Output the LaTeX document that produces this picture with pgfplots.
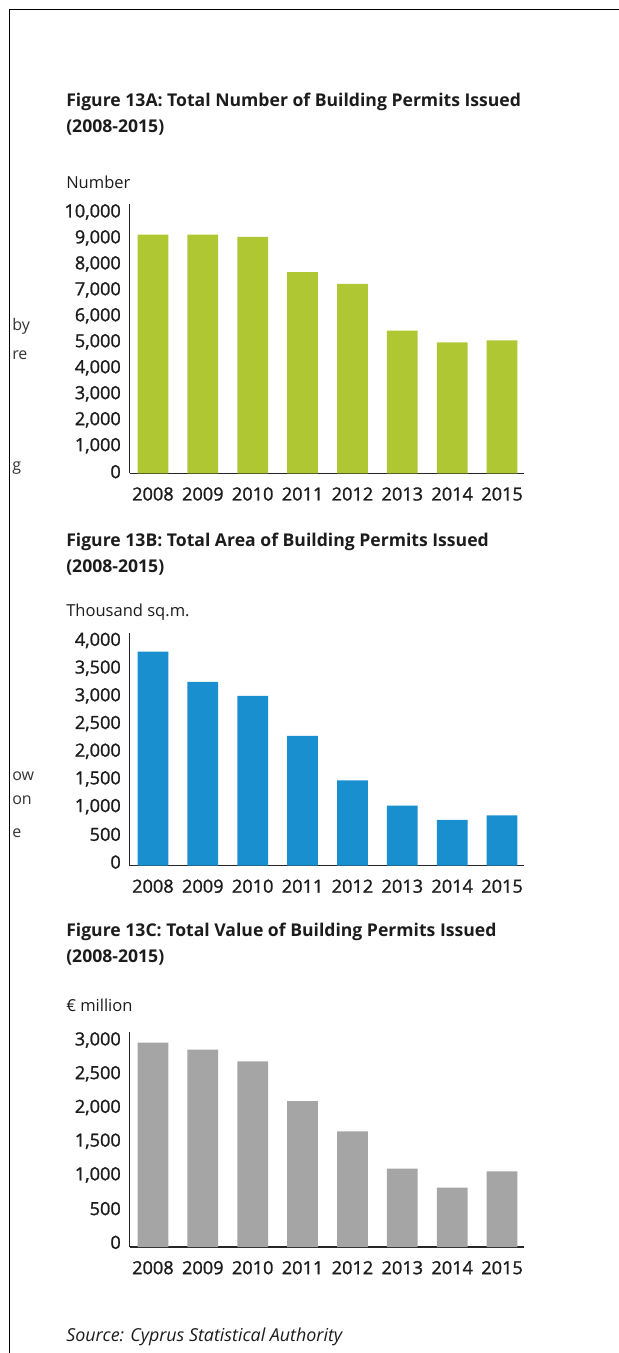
\documentclass[border=0pt]{standalone}
\usepackage{fontspec}
\setmainfont{Open Sans}
\newfontfamily\ticksf{Open Sans}[FakeBold=1.3]
\usepackage{pgfplots}
\pgfplotsset{compat=1.18}

\definecolor{barA}{RGB}{176,199,52}
\definecolor{barB}{RGB}{26,143,208}
\definecolor{barC}{RGB}{165,165,165}
\definecolor{txt}{RGB}{28,28,28}

% common look of the three panels
\pgfplotsset{permits/.style={
    scale only axis,
    width=295.9pt,
    xmin=-0.47, xmax=7.44, ymin=0,
    axis x line*=bottom, axis y line*=left,
    axis line style={-, line width=1.2pt, draw=black!85},
    major tick length=0pt,
    xtick={0,...,7},
    xticklabels={2008,2009,2010,2011,2012,2013,2014,2015},
    ybar, bar width=0.616,
    tick label style={font=\ticksf\fontsize{13.6}{15}\selectfont, text=txt},
    xticklabel style={yshift=-7pt},
    /pgf/number format/assume math mode=true,
    /pgf/number format/1000 sep={,},
    scaled y ticks=false,
    anchor=south west,
}}

\begin{document}
\begin{tikzpicture}
% page furniture, in reference pixels (1px = 0.75pt, y downwards)
\begin{scope}[x=0.75pt, y=-0.75pt]
\path[use as bounding box] (0,0) rectangle (618,1353);
\draw[line width=1.1pt] (9.5,1360) -- (9.5,9.7) -- (625,9.7);

% cut-off words of the neighbouring column
\begin{scope}[font=\fontsize{12}{14}\selectfont, text=black!80]
\node[anchor=base west, inner sep=0] at (12,330) {by};
\node[anchor=base west, inner sep=0] at (12,359) {re};
\node[anchor=base west, inner sep=0] at (12,470) {g};
\node[anchor=base west, inner sep=0] at (12,780) {ow};
\node[anchor=base west, inner sep=0] at (12,804) {on};
\node[anchor=base west, inner sep=0] at (12,837) {e};
\end{scope}

\begin{scope}[font=\bfseries\fontsize{13.2}{15}\selectfont, text=txt]
\node[anchor=base west, inner sep=0] at (66,106.5) {Figure 13A: Total Number of Building Permits Issued};
\node[anchor=base west, inner sep=0] at (66,132) {(2008-2015)};
\node[anchor=base west, inner sep=0] at (66,546) {Figure 13B: Total Area of Building Permits Issued};
\node[anchor=base west, inner sep=0] at (66,572) {(2008-2015)};
\node[anchor=base west, inner sep=0] at (66,936) {Figure 13C: Total Value of Building Permits Issued};
\node[anchor=base west, inner sep=0] at (66,962) {(2008-2015)};
\end{scope}

\begin{scope}[font=\fontsize{12.4}{14}\selectfont, text=txt]
\node[anchor=base west, inner sep=0] at (66,188.5) {Number};
\node[anchor=base west, inner sep=0] at (66,616) {Thousand sq.m.};
\node[anchor=base west, inner sep=0] at (66,1011.5) {€ million};
\node[anchor=base west, inner sep=0, font=\itshape\fontsize{13.4}{15}\selectfont] at (66,1341) {Source: Cyprus Statistical Authority};
\end{scope}
\end{scope}

% Figure 13A: number of permits
\begin{axis}[permits, at={(97.125pt,-354.975pt)}, height=202pt, ymax=10370,
    ytick={0,1000,...,10000}, yticklabel style={yshift=1.2pt, xshift=-3pt}]
\addplot[fill=barA, draw=none] coordinates {
    (0,9190) (1,9190) (2,9100) (3,7750) (4,7290) (5,5490) (6,5040) (7,5120) };
\end{axis}

% Figure 13B: area, thousand sq.m.
\begin{axis}[permits, at={(97.125pt,-649.125pt)}, height=174.2pt, ymax=4193,
    ytick={0,500,...,4000}, yticklabel style={yshift=2.6pt, xshift=-3pt}]
\addplot[fill=barB, draw=none] coordinates {
    (0,3861) (1,3314) (2,3061) (3,2339) (4,1539) (5,1080) (6,822) (7,907) };
\end{axis}

% Figure 13C: value, EUR million
\begin{axis}[permits, at={(97.125pt,-935.25pt)}, height=161.5pt, ymax=3193,
    ytick={0,500,...,3000}, yticklabel style={yshift=3.5pt, xshift=-3pt}]
\addplot[fill=barC, draw=none] coordinates {
    (0,3030) (1,2926) (2,2754) (3,2165) (4,1716) (5,1161) (6,879) (7,1123) };
\end{axis}
\end{tikzpicture}
\end{document}
